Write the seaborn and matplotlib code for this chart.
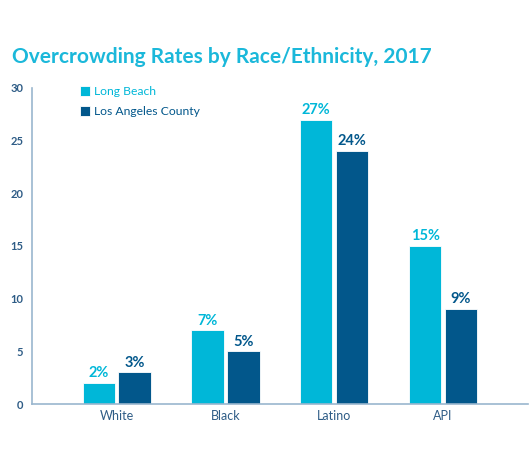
import pandas as pd
import matplotlib
matplotlib.use("Agg")
import matplotlib.pyplot as plt
import seaborn as sns

# data
groups = ["White", "Black", "Latino", "API"]
long_beach = [2, 7, 27, 15]
la_county = [3, 5, 24, 9]
series_names = ["Long Beach", "Los Angeles County"]
y_ticks = [0, 5, 10, 15, 20, 25, 30]

LB_COLOR = "#00B7D8"
LA_COLOR = "#02578B"
AXIS_COLOR = "#9AB6CE"
TEXT_COLOR = "#2E5C86"

df = pd.DataFrame({
    "Group": groups * 2,
    "Rate": long_beach + la_county,
    "Series": [series_names[0]] * len(groups) + [series_names[1]] * len(groups),
})

sns.set_style("white")
plt.rcParams["font.family"] = ["Lato", "DejaVu Sans"]

fig = plt.figure(figsize=(5.3, 4.65), dpi=100)
ax = fig.add_axes([0.060, 0.131, 0.936, 0.680])

sns.barplot(data=df, x="Group", y="Rate", hue="Series", order=groups,
            hue_order=series_names, palette=[LB_COLOR, LA_COLOR], saturation=1,
            width=0.66, gap=0.1, edgecolor="white", linewidth=0.6, ax=ax)

# value labels in the series colour
for container, color in zip(ax.containers, [LB_COLOR, LA_COLOR]):
    labels = [f"{v:.0f}%" for v in container.datavalues]
    ax.bar_label(container, labels=labels, padding=2, color=color,
                 fontsize=10.5, fontweight="bold")

ax.set_xlim(-0.78, 3.78)
ax.set_ylim(0, 30)
ax.set_yticks(y_ticks)
ax.set_xlabel("")
ax.set_ylabel("")

sns.despine(ax=ax)
for side in ["left", "bottom"]:
    ax.spines[side].set_color(AXIS_COLOR)
    ax.spines[side].set_linewidth(1.2)

ax.tick_params(axis="y", direction="in", length=11, width=1.2, color=AXIS_COLOR,
               labelsize=8, labelcolor=TEXT_COLOR, pad=6)
ax.tick_params(axis="x", length=0, labelsize=9, labelcolor=TEXT_COLOR, pad=4)
for lbl in ax.get_yticklabels():
    lbl.set_fontweight("bold")

leg = ax.legend(loc="upper left", bbox_to_anchor=(0.075, 1.04), frameon=False,
                handlelength=0.85, handleheight=0.85, handletextpad=0.35,
                labelspacing=0.75, fontsize=8.7)
for text, color in zip(leg.get_texts(), [LB_COLOR, LA_COLOR]):
    text.set_color(color)

fig.text(0.022, 0.877, "Overcrowding Rates by Race/Ethnicity, 2017",
         fontsize=15, fontweight="bold", color="#1BB8DA", va="center")

fig.savefig("out.png", dpi=100)
